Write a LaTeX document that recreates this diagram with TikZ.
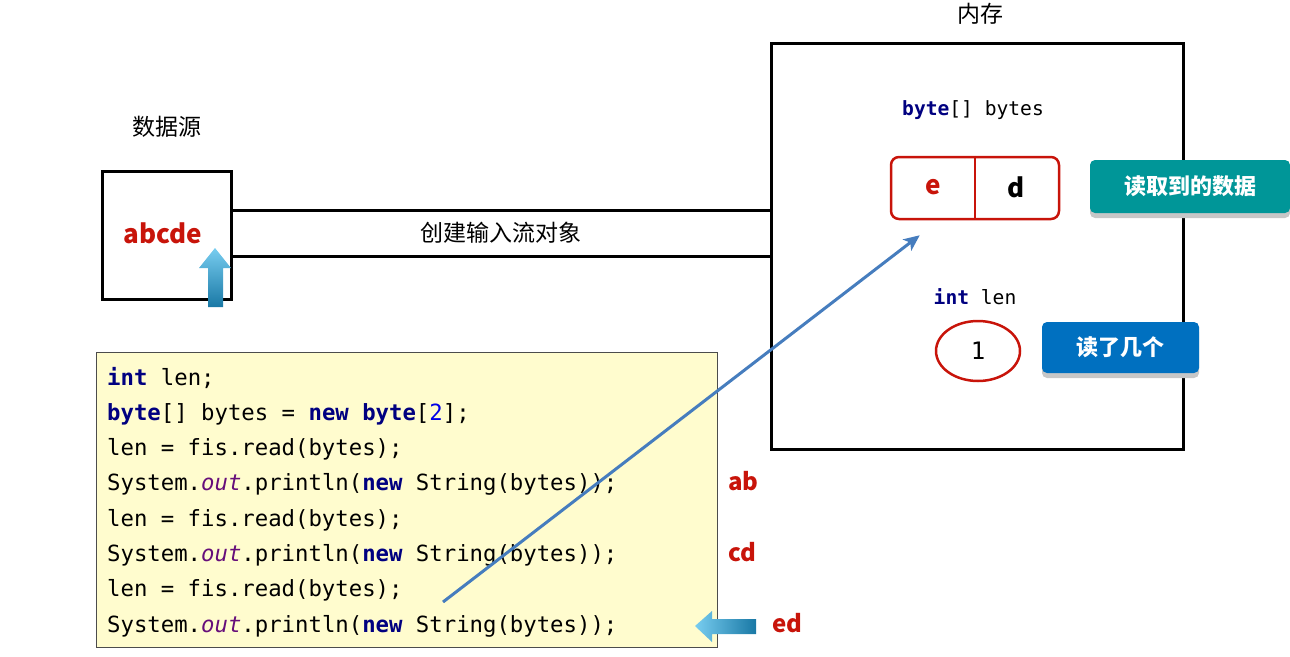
\documentclass[tikz,border=0pt]{standalone}
\usepackage{fontspec}
\setmainfont{Noto Sans CJK SC}
\setmonofont{DejaVu Sans Mono}
\usetikzlibrary{shapes.geometric, calc, arrows, arrows.meta, positioning, shadows}

\definecolor{kwblue}{RGB}{0,0,128}
\definecolor{fldpurple}{RGB}{102,14,122}
\definecolor{litblue}{RGB}{0,0,230}
\definecolor{srcred}{RGB}{200,20,10}
\definecolor{codebg}{RGB}{255,252,206}
\definecolor{tealtag}{RGB}{0,150,152}
\definecolor{bluetag}{RGB}{0,112,192}
\definecolor{linkblue}{RGB}{70,125,190}
\definecolor{arrlight}{RGB}{120,205,240}
\definecolor{arrdark}{RGB}{25,120,165}

\newcommand{\kw}[1]{{\color{kwblue}\bfseries #1}}
\newcommand{\fld}[1]{{\color{fldpurple}\itshape #1}}
\newcommand{\lit}[1]{{\color{litblue}#1}}

\begin{document}
\begin{tikzpicture}[>=latex, x=1pt, y=-1pt,
    frame/.style={draw, line width=3pt},
    cnlabel/.style={font=\fontsize{23}{26}\selectfont},
    code/.style={font=\ttfamily\fontsize{22.3}{26}\selectfont, anchor=base west, inner sep=0pt},
    memcode/.style={font=\ttfamily\fontsize{19.6}{22}\selectfont, inner sep=0pt},
    redtxt/.style={text=srcred, font=\bfseries\fontsize{24}{26}\selectfont, inner sep=0pt},
    tag/.style={rounded corners=5pt, text=white, font=\bfseries\fontsize{22}{24}\selectfont,
        drop shadow={shadow xshift=0pt, shadow yshift=-5pt, fill=black!22, opacity=1}}]
\useasboundingbox (0,0) rectangle (1290,656);

% data source and memory
\node[frame, minimum width=129pt, minimum height=128pt] (src) at (166.5,235) {};
\node[redtxt, font=\bfseries\fontsize{26}{28}\selectfont] (abcde) at (163,233) {abcde};
\node[cnlabel] (srclbl) at (167,127) {数据源};
\node[frame, minimum width=412pt, minimum height=406pt] (mem) at (977,246) {};
\node[cnlabel] (memlbl) at (980,14) {内存};

% input stream
\draw[frame] (src.east |- 0,210) -- (mem.west |- 0,210);
\draw[frame] (src.east |- 0,256) -- (mem.west |- 0,256);
\node[cnlabel] (pipe) at (501,233) {创建输入流对象};

% byte array
\node[memcode] (bytesdecl) at (973,110) {\kw{byte}[] bytes};
\node[draw=srcred, line width=2.5pt, rounded corners=8pt, minimum width=168pt, minimum height=62pt] (arr) at (975,188) {};
\draw[srcred, line width=2.5pt] (arr.north) -- (arr.south);
\node[redtxt, font=\bfseries\fontsize{26}{28}\selectfont] (celle) at (933,187) {e};
\node[font=\bfseries\fontsize{26}{28}\selectfont] (celld) at (1016,187) {d};
\node[tag, fill=tealtag, minimum width=200pt, minimum height=53pt] (readtag) at (1190,186.5) {读取到的数据};

% len
\node[memcode] (lendecl) at (975,297) {\kw{int} len};
\node[ellipse, draw=srcred, line width=2.5pt, minimum width=84pt, minimum height=60pt,
    font=\ttfamily\fontsize{24}{26}\selectfont] (lenval) at (978,351) {1};
\node[tag, fill=bluetag, minimum width=157pt, minimum height=51pt] (counttag) at (1120.5,347.5) {读了几个};

% code
\node[draw=black!70, line width=1pt, fill=codebg, minimum width=621pt, minimum height=295pt] (codebox) at (406.5,499.5) {};
\foreach \codeline [count=\i] in {
    {\kw{int} len;},
    {\kw{byte}[] bytes = \kw{new} \kw{byte}[\lit{2}];},
    {len = fis.read(bytes);},
    {System.\fld{out}.println(\kw{new} String(bytes));},
    {len = fis.read(bytes);},
    {System.\fld{out}.println(\kw{new} String(bytes));},
    {len = fis.read(bytes);},
    {System.\fld{out}.println(\kw{new} String(bytes));}}
    \node[code] (line\i) at (107,{385+(\i-1)*35.3}) {\codeline};

\node[redtxt, anchor=base west] (outab) at (728,0 |- line4.base) {ab};
\node[redtxt, anchor=base west] (outcd) at (728,0 |- line6.base) {cd};
\node[redtxt, anchor=base west] (outed) at (772,0 |- line8.base) {ed};

% pointers
\shade[top color=arrlight, bottom color=arrdark]
    (208,307) -- (208,268) -- (199,268) -- (215,248) -- (231,268) -- (223,268) -- (223,307) -- cycle;
\shade[left color=arrlight, right color=arrdark]
    (756,619) -- (712,619) -- (712,611) -- (695,626) -- (712,642) -- (712,634) -- (756,634) -- cycle;

\coordinate (link start) at (443,602);
\coordinate (link end) at ($(arr.south west)+(30,15)$);
\draw[-{Stealth[length=16pt, width=14pt, inset=4pt]}, linkblue, line width=3pt] (link start) -- (link end);
\end{tikzpicture}
\end{document}
